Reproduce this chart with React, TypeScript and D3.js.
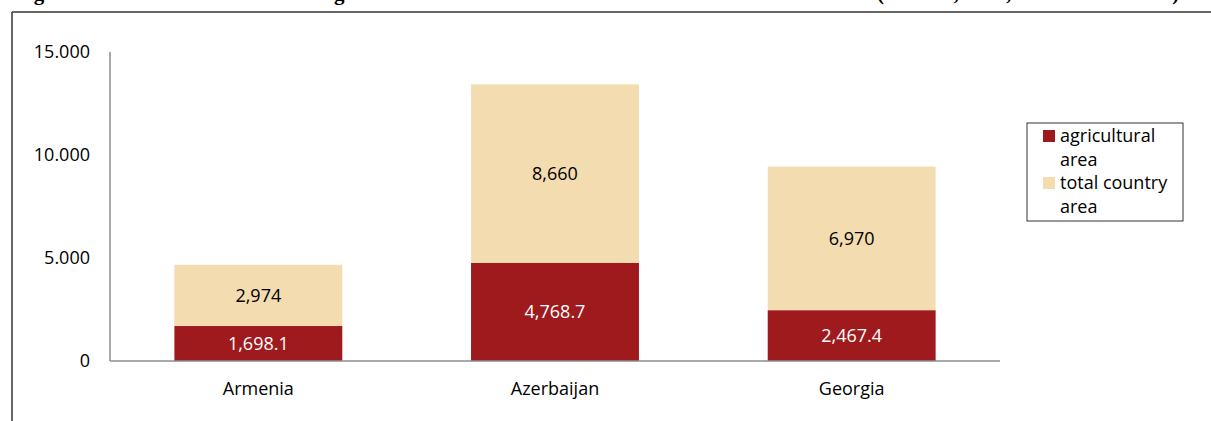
import React from "react";
import * as d3 from "d3";

const categories = ["Armenia", "Azerbaijan", "Georgia"];
const agriculturalArea = [1698.1, 4768.7, 2467.4];
const totalCountryArea = [2974, 8660, 6970];
const agriLabels = ["1,698.1", "4,768.7", "2,467.4"];
const totalLabels = ["2,974", "8,660", "6,970"];
const yTicks = [0, 5000, 10000, 15000];
const yTickLabels = ["0", "5.000", "10.000", "15.000"];
const legendLines = [["agricultural", "area"], ["total country", "area"]];
const titleMain = "Figure 13: Total area and share of agricultural area in the South Caucasus countries";
const titleSource = "(1000 ha, 2012, national statistics)";

const RED = "#9E1A1D";
const BEIGE = "#F3DCAF";
const AXIS = "#8c8c8c";
const FONT = "'Open Sans', sans-serif";

export default function App() {
  const W = 1211, H = 421;
  const x = d3.scaleBand<string>().domain(categories).range([110, 1000]).paddingInner(0.434).paddingOuter(0.217);
  const y = d3.scaleLinear().domain([0, 15000]).range([361, 52]);
  const bw = x.bandwidth();

  return (
    <svg width={W} height={H} style={{ position: "absolute", left: 0, top: 0, background: "#fff" }} fontFamily={FONT}>
      {/* clipped title */}
      <text y={0} fontFamily="'Liberation Serif', serif" fontWeight="bold" fontSize={21} fill="#000">
        <tspan x={15}>{titleMain}</tspan>
        <tspan x={877}>{titleSource}</tspan>
      </text>
      {/* frame */}
      <line x1={12} x2={W} y1={12} y2={12} stroke="#333" strokeWidth={1.5} />
      <line x1={12} x2={12} y1={12} y2={H} stroke="#333" strokeWidth={1.5} />

      {/* bars */}
      {categories.map((c, i) => {
        const x0 = x(c)!;
        const a = agriculturalArea[i];
        const t = totalCountryArea[i];
        const yA = y(a), y0 = y(0), yT = y(a + t);
        return (
          <g key={c}>
            <rect x={x0} y={yA} width={bw} height={y0 - yA} fill={RED} />
            <rect x={x0} y={yT} width={bw} height={yA - yT} fill={BEIGE} />
            <text x={x0 + bw / 2} y={(yA + y0) / 2} dy="0.35em" textAnchor="middle" fontSize={18} fill="#fff">{agriLabels[i]}</text>
            <text x={x0 + bw / 2} y={(yT + yA) / 2} dy="0.35em" textAnchor="middle" fontSize={18} fill="#000">{totalLabels[i]}</text>
            <text x={x0 + bw / 2} y={389} dy="0.35em" textAnchor="middle" fontSize={18} fill="#000">{c}</text>
          </g>
        );
      })}

      {/* axes */}
      <line x1={110} x2={110} y1={y(15000)} y2={y(0)} stroke={AXIS} strokeWidth={1.5} />
      <line x1={110} x2={1000} y1={y(0)} y2={y(0)} stroke={AXIS} strokeWidth={1.5} />
      {yTicks.map((v, i) => (
        <text key={v} x={90} y={y(v)} dy="0.35em" textAnchor="end" fontSize={18} fill="#000">{yTickLabels[i]}</text>
      ))}

      {/* legend */}
      <rect x={1027} y={123} width={156} height={98} fill="#fff" stroke="#333" strokeWidth={1} />
      {legendLines.map((lines, i) => (
        <g key={i}>
          <rect x={1043} y={130 + i * 47} width={12} height={12} fill={i === 0 ? RED : BEIGE} />
          {lines.map((l, j) => (
            <text key={j} x={1060} y={142 + i * 47 + j * 23.5} fontSize={18} fill="#000">{l}</text>
          ))}
        </g>
      ))}
    </svg>
  );
}
